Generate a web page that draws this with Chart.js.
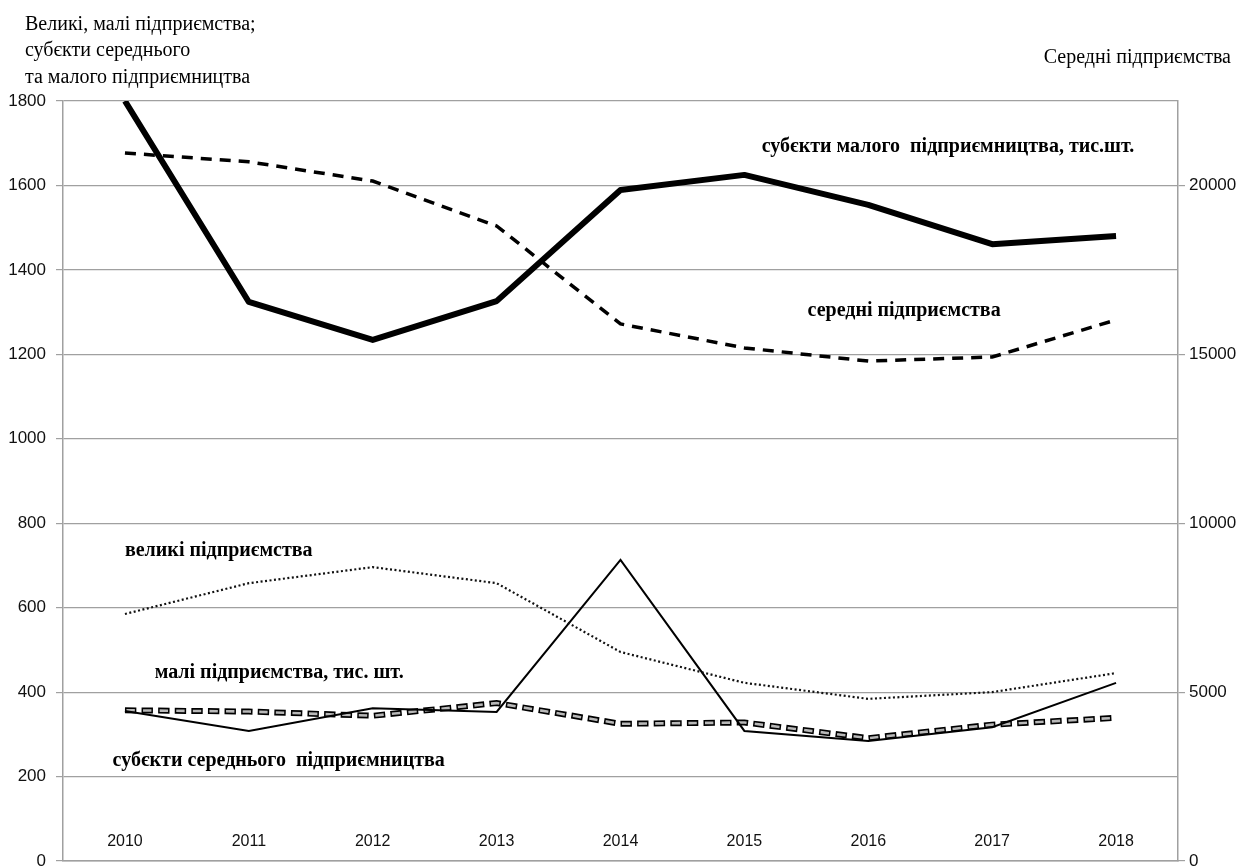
<!DOCTYPE html>
<html lang="uk">
<head>
    <meta charset="UTF-8">
    <title>Підприємства</title>
    <script src="https://cdn.jsdelivr.net/npm/chart.js"></script>
    <style>
        body { margin: 0; background: #fff; }
        #wrap { width: 1247px; height: 866px; position: relative; }
    </style>
</head>
<body>
<div id="wrap"><canvas id="chart"></canvas></div>
<script>
    const years = ['2010', '2011', '2012', '2013', '2014', '2015', '2016', '2017', '2018'];

    // left axis, тис. / од.
    const smallBusinessSubjects = [1800, 1324, 1234, 1326, 1589, 1625, 1554, 1461, 1480];
    const largeEnterprises = [585, 658, 696, 658, 495, 422, 384, 400, 445];
    const smallEnterprises = [357, 354, 344, 374, 325, 328, 291, 323, 339];
    const mediumBusinessSubjects = [355, 308, 362, 353, 713, 308, 284, 317, 422];
    // right axis
    const mediumEnterprises = [20960, 20700, 20130, 18800, 15900, 15190, 14800, 14920, 16020];

    const leftTicks = [0, 200, 400, 600, 800, 1000, 1200, 1400, 1600, 1800];
    const rightTicks = [0, 5000, 10000, 15000, 20000];
    const rightMax = 22500;

    // text labels placed on the plot: [text, category position, left-axis value]
    const annotations = [
        ['субєкти малого  підприємництва, тис.шт.', 5.14, 1691],
        ['середні підприємства', 5.51, 1303],
        ['великі підприємства', 0, 734],
        ['малі підприємства, тис. шт.', 0.24, 445],
        ['субєкти середнього  підприємництва', -0.1, 237]
    ];

    const textPlugin = {
        id: 'texts',
        afterDraw(chart) {
            const ctx = chart.ctx;
            const x = chart.scales.x, y = chart.scales.y;
            ctx.save();
            ctx.textBaseline = 'middle';

            // year labels sit inside the plot, just above the bottom axis
            ctx.textAlign = 'center';
            ctx.fillStyle = '#111';
            ctx.font = '16px "Liberation Sans"';
            x.getLabels().forEach((lab, i) => {
                ctx.fillText(lab, x.getPixelForValue(i), chart.chartArea.bottom - 19);
            });

            ctx.fillStyle = '#000';
            ctx.textAlign = 'left';
            ctx.font = '20px "Liberation Serif"';
            ctx.fillText('Великі, малі підприємства;', 25, 25);
            ctx.fillText('субєкти середнього', 25, 51);
            ctx.fillText('та малого підприємництва', 25, 78);
            ctx.textAlign = 'right';
            ctx.fillText('Середні підприємства', 1231, 58);
            ctx.textAlign = 'left';
            ctx.font = 'bold 20px "Liberation Serif"';
            annotations.forEach(a => {
                ctx.fillText(a[0], x.getPixelForValue(a[1]), y.getPixelForValue(a[2]));
            });
            ctx.restore();
        }
    };

    const grey = '#a0a0a0';

    function noVPad(scale) {
        scale.paddingTop = 0;
        scale.paddingBottom = 0;
    }

    new Chart(document.getElementById('chart'), {
        type: 'line',
        data: {
            labels: years,
            datasets: [
                {
                    label: 'субєкти малого підприємництва, тис.шт.',
                    data: smallBusinessSubjects,
                    yAxisID: 'y',
                    borderColor: '#000',
                    borderWidth: 6,
                    borderJoinStyle: 'round',
                    pointRadius: 0,
                    tension: 0
                },
                {
                    label: 'середні підприємства',
                    data: mediumEnterprises,
                    yAxisID: 'y2',
                    borderColor: '#000',
                    borderWidth: 3.5,
                    borderDash: [11, 8],
                    pointRadius: 0,
                    tension: 0
                },
                {
                    label: 'великі підприємства',
                    data: largeEnterprises,
                    yAxisID: 'y',
                    borderColor: '#111',
                    borderWidth: 2.2,
                    borderDash: [2, 2.5],
                    pointRadius: 0,
                    tension: 0
                },
                {
                    label: 'субєкти середнього підприємництва',
                    data: mediumBusinessSubjects,
                    yAxisID: 'y',
                    borderColor: '#000',
                    borderWidth: 2,
                    pointRadius: 0,
                    tension: 0
                },
                // малі підприємства: light fill drawn over a dark outline
                {
                    label: 'малі підприємства (fill)',
                    data: smallEnterprises,
                    yAxisID: 'y',
                    borderColor: '#b8b8b8',
                    borderWidth: 2.6,
                    borderDash: [8.4, 8.2],
                    borderDashOffset: -1.5,
                    pointRadius: 0,
                    tension: 0
                },
                {
                    label: 'малі підприємства, тис. шт.',
                    data: smallEnterprises,
                    yAxisID: 'y',
                    borderColor: '#000',
                    borderWidth: 6,
                    borderDash: [11.4, 5.2],
                    pointRadius: 0,
                    tension: 0
                }
            ]
        },
        options: {
            responsive: true,
            maintainAspectRatio: false,
            animation: false,
            layout: { padding: { top: 101, left: 0, right: 0, bottom: 4 } },
            plugins: {
                legend: { display: false },
                tooltip: { enabled: false }
            },
            scales: {
                x: {
                    offset: true,
                    grid: { display: false, drawTicks: false },
                    border: { display: true, color: grey, width: 1.5 },
                    ticks: { display: false },
                    afterFit(scale) { scale.height = 1; }
                },
                y: {
                    position: 'left',
                    min: leftTicks[0],
                    max: leftTicks[leftTicks.length - 1],
                    afterBuildTicks(scale) { scale.ticks = leftTicks.map(v => ({ value: v })); },
                    ticks: {
                        padding: 10,
                        color: '#111',
                        font: { family: 'Liberation Sans', size: 17 },
                        callback: v => String(v)
                    },
                    grid: { color: grey, lineWidth: 1.2, tickLength: 7 },
                    border: { display: true, color: grey, width: 1.5 },
                    afterFit(scale) { scale.width = 63; noVPad(scale); }
                },
                y2: {
                    position: 'right',
                    min: 0,
                    max: rightMax,
                    afterBuildTicks(scale) { scale.ticks = rightTicks.map(v => ({ value: v })); },
                    ticks: {
                        padding: 4,
                        color: '#111',
                        font: { family: 'Liberation Sans', size: 17 },
                        callback: v => String(v)
                    },
                    grid: { drawOnChartArea: false, color: grey, lineWidth: 1.2, tickLength: 7 },
                    border: { display: true, color: grey, width: 1.5 },
                    afterFit(scale) { scale.width = 69; noVPad(scale); }
                }
            }
        },
        plugins: [textPlugin]
    });
</script>
</body>
</html>
